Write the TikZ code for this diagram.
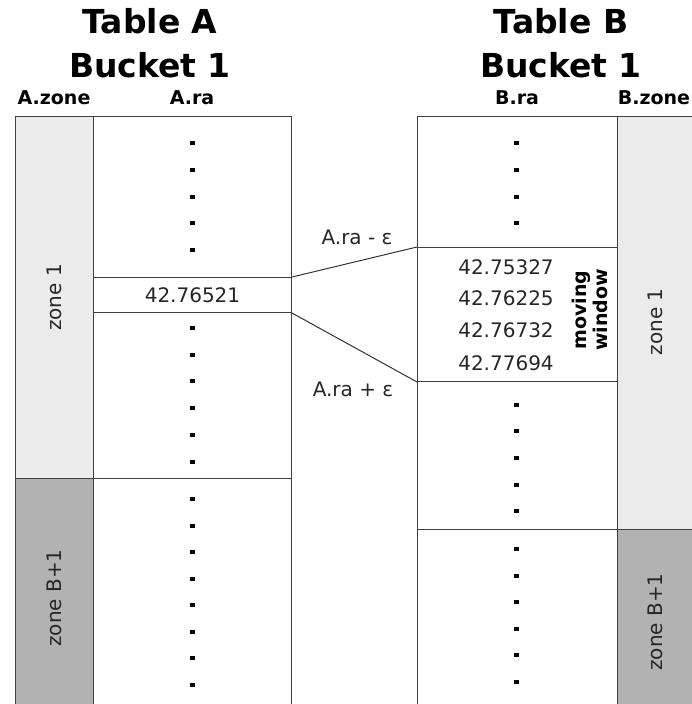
\documentclass[tikz,border=0pt]{standalone}
\usepackage{fontspec}
\setmainfont{DejaVu Sans}
\begin{document}
\begin{tikzpicture}[x=1pt,y=-1pt,
  cell/.style={draw=black!75, line width=1pt, inner sep=0pt, anchor=north west},
  zonelight/.style={cell, fill=black!8},
  zonedark/.style={cell, fill=black!30},
  txt/.style={font=\fontsize{20}{24}\selectfont, text=black!85},
  zonetxt/.style={txt, rotate=90},
  title/.style={font=\bfseries\fontsize{33}{40}\selectfont, anchor=base},
  colhead/.style={font=\bfseries\fontsize{19}{23}\selectfont, anchor=base},
  conn/.style={draw=black!80, line width=1pt},
  dotmark/.style={fill=black}]
\useasboundingbox (0,0) rectangle (692,704);
\clip (0,0) rectangle (692,704);
\fill[white] (0,0) rectangle (692,704);

% headers
\node[title] (ta) at (150,33) {Table A};
\node[title] (ba) at (150,77) {Bucket 1};
\node[title] (tb) at (561,33) {Table B};
\node[title] (bb) at (561,77) {Bucket 1};
\node[colhead] (hazone) at (54,104) {A.zone};
\node[colhead] (hara) at (192,104) {A.ra};
\node[colhead] (hbra) at (517,104) {B.ra};
\node[colhead] (hbzone) at (654,104) {B.zone};

% table A
\node[zonelight, minimum width=78pt, minimum height=362pt] (az1) at (15,116) {};
\node[zonedark, minimum width=78pt, minimum height=240pt] (az2) at (15,478) {};
\node[cell, minimum width=198pt, minimum height=161pt] (atop) at (93,116) {};
\node[cell, minimum width=198pt, minimum height=35pt] (hit) at (93,277) {};
\node[cell, minimum width=198pt, minimum height=166pt] (amid) at (93,312) {};
\node[cell, minimum width=198pt, minimum height=240pt] (abot) at (93,478) {};
\node[zonetxt] (lz1) at (az1.center) {zone 1};
\node[zonetxt] (lz2) at (54,598) {zone B+1};
\node[txt] (hitval) at (hit.center) {42.76521};

% table B
\node[cell, minimum width=200pt, minimum height=131pt] (btop) at (417,116) {};
\node[cell, minimum width=200pt, minimum height=134pt] (win) at (417,247) {};
\node[cell, minimum width=200pt, minimum height=148pt] (bmid) at (417,381) {};
\node[cell, minimum width=200pt, minimum height=190pt] (bbot) at (417,529) {};
\node[zonelight, minimum width=90pt, minimum height=413pt] (bz1) at (617,116) {};
\node[zonedark, minimum width=90pt, minimum height=190pt] (bz2) at (617,529) {};
\node[zonetxt] (rz1) at (655,322) {zone 1};
\node[zonetxt] (rz2) at (655,622) {zone B+1};

\node[txt] (w1) at (506,267) {42.75327};
\node[txt] (w2) at (506,298) {42.76225};
\node[txt] (w3) at (506,330) {42.76732};
\node[txt] (w4) at (506,363) {42.77694};
\node[font=\bfseries\fontsize{19}{21}\selectfont, align=center, rotate=90] (mw) at (590,310) {moving\\window};

% connectors
\draw[conn] (hit.north east) -- (win.north west);
\draw[conn] (hit.south east) -- (win.south west);
\node[txt] (lminus) at (357,237) {A.ra - ε};
\node[txt] (lplus) at (353,389) {A.ra + ε};

% dots
\foreach \y in {143,170,197,223,250,328,355,381,408,435,462,499,526,552,579,605,632,658,685}
  \fill[dotmark] (189.5,\y-2) rectangle +(5,4);
\foreach \y in {143,170,197,223,405,431,458,485,511,549,576,602,629,655,682}
  \fill[dotmark] (514,\y-2) rectangle +(5,4);
\end{tikzpicture}
\end{document}
